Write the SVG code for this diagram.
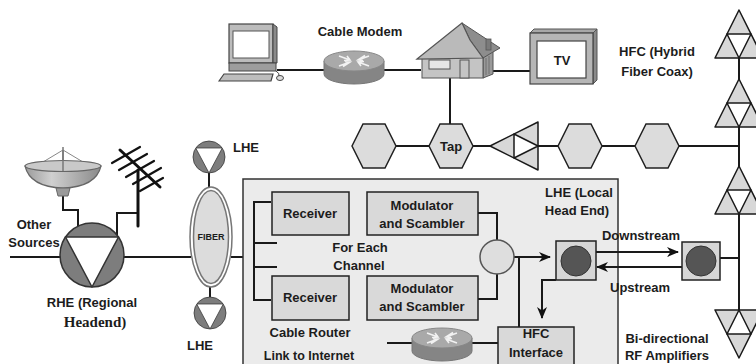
<svg xmlns="http://www.w3.org/2000/svg" xmlns:xlink="http://www.w3.org/1999/xlink" width="756" height="364" viewBox="0 0 756 364">
  <style>
    .t { font-family: "Liberation Sans", Arial, sans-serif; font-weight: bold; font-size: 13px; fill: #1c1c1c; }
    .mid { text-anchor: middle; }
    .sm { font-size: 9px; }
    .serif { font-family: "Liberation Serif", "Times New Roman", serif; font-size: 15px; }
    .wire { stroke: #1a1a1a; stroke-width: 2; fill: none; }
    .box { fill: #d9d9d9; stroke: #222; stroke-width: 1.5; }
    .hex { fill: #dcdcdc; stroke: #222; stroke-width: 1.5; }
    .tri { fill: #d8d8d8; stroke: #1a1a1a; stroke-width: 1.5; stroke-linejoin: round; }
    .triIn { fill: #ffffff; stroke: #1a1a1a; stroke-width: 1.5; stroke-linejoin: round; }
    .ampBody { fill: #7d7d7d; stroke: #333; stroke-width: 1.5; }
    .ampTri { fill: #ffffff; stroke: #333; stroke-width: 1.5; stroke-linejoin: round; }
    .port { fill: #d6d6d6; stroke: #222; stroke-width: 1.5; }
    .portDot { fill: #555; stroke: #333; stroke-width: 1; }
  </style>
  <defs>
    <marker id="arrow" viewBox="0 0 12 10" markerWidth="12" markerHeight="10" refX="11" refY="5" orient="auto" markerUnits="userSpaceOnUse">
      <path d="M0,0 L12,5 L0,10 L3.5,5 z" fill="#111"/>
    </marker>
    <!-- coax hexagon, centred on origin -->
    <polygon id="hexShape" class="hex" points="-22,0 -11,-22 11,-22 22,0 11,22 -11,22"/>
    <!-- bi-directional amplifier (subdivided triangle), apex at origin pointing up -->
    <g id="triforce">
      <polygon class="tri" points="0,0 -24,48 24,48"/>
      <polygon class="triIn" points="-12,24 12,24 0,48"/>
    </g>
    <!-- head-end amplifier symbol, centre at origin -->
    <g id="headAmp">
      <circle class="ampBody" cx="0" cy="0" r="32"/>
      <polygon class="ampTri" points="-26.5,-18 26.5,-18 0,32"/>
    </g>
    <linearGradient id="dishGrad" x1="0" y1="0" x2="1" y2="0">
      <stop offset="0" stop-color="#9a9a9a"/>
      <stop offset="0.35" stop-color="#d0d0d0"/>
      <stop offset="1" stop-color="#8a8a8a"/>
    </linearGradient>
    <g id="router">
      <path d="M-30,0 v13 a30,10 0 0 0 60,0 v-13 z" fill="#858585" stroke="#777" stroke-width="1"/>
      <ellipse cx="0" cy="0" rx="30" ry="10" fill="#a9a9a9" stroke="#888" stroke-width="1"/>
      <path d="M-15,-5 L-4,-1 M-7,-5 L-4,-1 L-10,-0.5 M15,5 L4,1 M7,5 L4,1 L10,0.5 M15,-5 L4,-1 M11,-5.5 L4,-1 L9,-0.5 M-15,5 L-4,1 M-11,5.5 L-4,1 L-9,0.5" stroke="#f2f2f2" stroke-width="1.6" fill="none"/>
    </g>
  </defs>

  <!-- wiring -->
  <g id="connectors">
    <!-- subscriber premises -->
    <line class="wire" x1="277" y1="70" x2="325" y2="70"/>
    <line class="wire" x1="383" y1="70" x2="421" y2="70"/>
    <line class="wire" x1="492" y1="71" x2="530" y2="71"/>
    <line class="wire" x1="450" y1="78" x2="450" y2="124"/>
    <!-- coax trunk -->
    <line class="wire" x1="396" y1="146" x2="429" y2="146"/>
    <line class="wire" x1="473" y1="146" x2="490" y2="146"/>
    <line class="wire" x1="538" y1="146" x2="558" y2="146"/>
    <line class="wire" x1="602" y1="146" x2="635" y2="146"/>
    <line class="wire" x1="679" y1="146" x2="739" y2="146"/>
    <line class="wire" x1="739" y1="58" x2="739" y2="310"/>
    <!-- sources to regional headend -->
    <path class="wire" d="M63,196 V210 H78 V232"/>
    <path class="wire" d="M138,213 H117 V235"/>
    <line class="wire" x1="10" y1="257" x2="61" y2="257"/>
    <line class="wire" x1="123" y1="257" x2="191" y2="257"/>
    <line class="wire" x1="209" y1="173" x2="209" y2="188"/>
    <line class="wire" x1="210" y1="287" x2="210" y2="297"/>
    <line class="wire" x1="231" y1="257" x2="254" y2="257"/>
  </g>

  <!-- local head end enclosure -->
  <g id="lhe-box">
    <rect x="243" y="179" width="375" height="200" fill="#ebebeb" stroke="#333" stroke-width="1.5"/>
    <text class="t mid" x="579" y="197">LHE (Local</text>
    <text class="t mid" x="577" y="215">Head End)</text>
  </g>

  <g id="lhe-wiring">
    <path class="wire" d="M271,202 H254 V300 H271"/>
    <line class="wire" x1="254" y1="243" x2="277" y2="243"/>
    <line class="wire" x1="254" y1="267" x2="277" y2="267"/>
    <path class="wire" d="M478,213 H497 V240"/>
    <path class="wire" d="M478,299 H497 V274"/>
    <line class="wire" x1="514" y1="257" x2="550" y2="257" marker-end="url(#arrow)"/>
    <line class="wire" x1="519" y1="257" x2="519" y2="327"/>
    <path class="wire" d="M556,280 H542 V318" marker-end="url(#arrow)"/>
    <line class="wire" x1="596" y1="252" x2="678" y2="252" marker-end="url(#arrow)"/>
    <line class="wire" x1="682" y1="267" x2="597" y2="267" marker-end="url(#arrow)"/>
    <line class="wire" x1="720" y1="258" x2="739" y2="258"/>
    <line class="wire" x1="387" y1="343" x2="412" y2="343"/>
    <line class="wire" x1="472" y1="343" x2="498" y2="343"/>
  </g>

  <!-- computer -->
  <g id="computer">
    <rect x="229" y="24" width="44" height="39" fill="#bcbcbc" stroke="#444" stroke-width="1.2"/>
    <polygon points="273,24 277,27 277,63 273,63" fill="#8a8a8a" stroke="#444" stroke-width="1"/>
    <rect x="233" y="31" width="36" height="27" fill="#ffffff" stroke="#555" stroke-width="1"/>
    <rect x="229" y="63" width="47" height="8" fill="#9d9d9d" stroke="#444" stroke-width="1"/>
    <polygon points="219,81 224,74 273,74 271,81" fill="#bdbdbd" stroke="#444" stroke-width="1.2"/>
    <path d="M276,71 q4,2 3,6" stroke="#444" stroke-width="1" fill="none"/>
    <ellipse cx="280" cy="78" rx="3.5" ry="2.5" fill="#ddd" stroke="#444" stroke-width="1"/>
  </g>

  <!-- cable modem -->
  <g id="cable-modem">
    <text class="t mid" x="360" y="36">Cable Modem</text>
    <use xlink:href="#router" href="#router" transform="translate(354,61)"/>
  </g>

  <!-- house -->
  <g id="house">
    <polygon points="483,57 493,50 493,74 483,78" fill="#9a9a9a" stroke="#555" stroke-width="1"/>
    <line x1="486" y1="58" x2="486" y2="75" stroke="#666" stroke-width="0.8"/>
    <line x1="489" y1="56" x2="489" y2="74" stroke="#666" stroke-width="0.8"/>
    <rect x="422" y="56" width="61" height="22" fill="#c4c4c4" stroke="#555" stroke-width="1"/>
    <polygon points="462,23 500,48 493,52 483,58 470,40" fill="#8d8d8d" stroke="#555" stroke-width="1"/>
    <polygon points="417,59 462,23 470,40 483,58" fill="#bababa" stroke="#555" stroke-width="1.2"/>
    <rect x="486" y="39" width="5" height="11" fill="#7a7a7a" stroke="#555" stroke-width="0.8"/>
    <rect x="429" y="60" width="21" height="9" fill="#e6e6e6" stroke="#555" stroke-width="1"/>
    <rect x="460" y="60" width="9" height="18" fill="#c4c4c4" stroke="#555" stroke-width="1"/>
  </g>

  <!-- television -->
  <g id="tv">
    <polygon points="530,33 534,29 597,29 593,33" fill="#a8a8a8" stroke="#555" stroke-width="1"/>
    <polygon points="593,33 597,29 597,80 593,84" fill="#8a8a8a" stroke="#555" stroke-width="1"/>
    <rect x="530" y="33" width="63" height="51" fill="#b6b6b6" stroke="#444" stroke-width="1.2"/>
    <rect x="537" y="41" width="49" height="37" fill="#ffffff" stroke="#444" stroke-width="1.2"/>
    <text class="t mid" x="562" y="65">TV</text>
  </g>

  <g id="hfc-label">
    <text class="t mid" x="657" y="56">HFC (Hybrid</text>
    <text class="t mid" x="657" y="76">Fiber Coax)</text>
  </g>

  <!-- coax trunk devices -->
  <g id="hex-1"><use xlink:href="#hexShape" href="#hexShape" transform="translate(374,146)"/></g>
  <g id="tap">
    <use xlink:href="#hexShape" href="#hexShape" transform="translate(451,146)"/>
    <text class="t mid" x="451" y="151">Tap</text>
  </g>
  <g id="trunk-amp"><use xlink:href="#triforce" href="#triforce" transform="translate(490,146) rotate(-90)"/></g>
  <g id="hex-3"><use xlink:href="#hexShape" href="#hexShape" transform="translate(580,146)"/></g>
  <g id="hex-4"><use xlink:href="#hexShape" href="#hexShape" transform="translate(657,146)"/></g>

  <!-- bi-directional RF amplifiers -->
  <g id="rf-amp-1"><use xlink:href="#triforce" href="#triforce" transform="translate(739,10)"/></g>
  <g id="rf-amp-2"><use xlink:href="#triforce" href="#triforce" transform="translate(739,79)"/></g>
  <g id="rf-amp-3"><use xlink:href="#triforce" href="#triforce" transform="translate(739,166)"/></g>
  <g id="rf-amp-4"><use xlink:href="#triforce" href="#triforce" transform="translate(739,358) scale(1,-1)"/></g>
  <g id="rf-label">
    <text class="t mid" x="667" y="343">Bi-directional</text>
    <text class="t mid" x="667" y="360">RF Amplifiers</text>
  </g>

  <!-- satellite dish -->
  <g id="dish">
    <line x1="63" y1="147" x2="63" y2="172" stroke="#777" stroke-width="1.5"/>
    <path d="M63,150 L38,165 M63,150 L88,165" stroke="#888" stroke-width="1"/>
    <path d="M25,166 Q30,187 63,188 Q96,187 101,166 Z" fill="url(#dishGrad)" stroke="#666" stroke-width="1.2"/>
    <ellipse cx="63" cy="166" rx="38" ry="5.5" fill="#c9c9c9" stroke="#666" stroke-width="1.2"/>
    <line x1="63" y1="150" x2="63" y2="171" stroke="#777" stroke-width="1.5"/>
    <polygon points="56,188 70,188 68,196 58,196" fill="#9a9a9a" stroke="#666" stroke-width="1"/>
  </g>

  <!-- terrestrial antenna -->
  <g id="antenna" stroke="#111" stroke-linecap="round">
    <line x1="120" y1="150" x2="160" y2="187" stroke-width="3"/>
    <line x1="138" y1="170" x2="138" y2="226" stroke-width="3"/>
    <g stroke-width="2.2">
      <line x1="112" y1="163" x2="140" y2="147"/>
      <line x1="119" y1="170" x2="147" y2="154"/>
      <line x1="126" y1="177" x2="154" y2="161"/>
      <line x1="133" y1="184" x2="161" y2="168"/>
      <line x1="140" y1="191" x2="163" y2="178"/>
    </g>
  </g>

  <!-- regional headend -->
  <g id="rhe">
    <use xlink:href="#headAmp" href="#headAmp" transform="translate(92,255)"/>
    <text class="t mid" x="34" y="229">Other</text>
    <text class="t mid" x="34" y="247">Sources</text>
    <text class="t mid" x="92" y="307">RHE (Regional</text>
    <text class="t mid serif" x="95" y="327">Headend)</text>
  </g>

  <!-- fibre trunk -->
  <g id="fiber">
    <ellipse cx="211" cy="237" rx="21" ry="50" fill="#ffffff" stroke="#777" stroke-width="1.5"/>
    <ellipse cx="211" cy="237" rx="17.5" ry="46.5" fill="#dcdcdc" stroke="#777" stroke-width="1.5"/>
    <text class="t mid sm" x="211" y="240">FIBER</text>
  </g>

  <g id="lhe-top">
    <use xlink:href="#headAmp" href="#headAmp" transform="translate(209,157) scale(0.5)"/>
    <text class="t" x="233" y="152">LHE</text>
  </g>
  <g id="lhe-bottom">
    <use xlink:href="#headAmp" href="#headAmp" transform="translate(210,313) scale(0.5)"/>
    <text class="t mid" x="200" y="350">LHE</text>
  </g>

  <!-- head end equipment -->
  <g id="receiver-1">
    <rect class="box" x="272" y="192" width="77" height="43"/>
    <text class="t mid" x="310" y="218">Receiver</text>
  </g>
  <g id="receiver-2">
    <rect class="box" x="272" y="276" width="77" height="44"/>
    <text class="t mid" x="310" y="302">Receiver</text>
  </g>
  <g id="channel-label">
    <text class="t mid" x="360" y="252">For Each</text>
    <text class="t mid" x="359" y="270">Channel</text>
  </g>
  <g id="modulator-1">
    <rect class="box" x="367" y="192" width="111" height="43"/>
    <text class="t mid" x="422" y="210">Modulator</text>
    <text class="t mid" x="422" y="228">and Scambler</text>
  </g>
  <g id="modulator-2">
    <rect class="box" x="367" y="276" width="111" height="44"/>
    <text class="t mid" x="422" y="293">Modulator</text>
    <text class="t mid" x="422" y="311">and Scambler</text>
  </g>
  <g id="combiner">
    <circle cx="497" cy="257" r="17" fill="#dedede" stroke="#555" stroke-width="1.5"/>
  </g>
  <g id="lhe-port">
    <rect class="port" x="556" y="241" width="40" height="39"/>
    <circle class="portDot" cx="576" cy="261" r="15"/>
  </g>
  <g id="node-port">
    <rect class="port" x="682" y="242" width="38" height="38"/>
    <circle class="portDot" cx="701" cy="261" r="15"/>
  </g>
  <g id="stream-labels">
    <text class="t mid" x="641" y="240">Downstream</text>
    <text class="t mid" x="640" y="292">Upstream</text>
  </g>
  <g id="hfc-interface">
    <rect class="box" x="498" y="327" width="76" height="40"/>
    <text class="t mid" x="536" y="338">HFC</text>
    <text class="t mid" x="536" y="357">Interface</text>
  </g>
  <g id="cable-router">
    <text class="t mid" x="310" y="337">Cable Router</text>
    <use xlink:href="#router" href="#router" transform="translate(442,338)"/>
    <text class="t mid" x="309" y="360" style="font-size:12.5px">Link to Internet</text>
  </g>
</svg>
